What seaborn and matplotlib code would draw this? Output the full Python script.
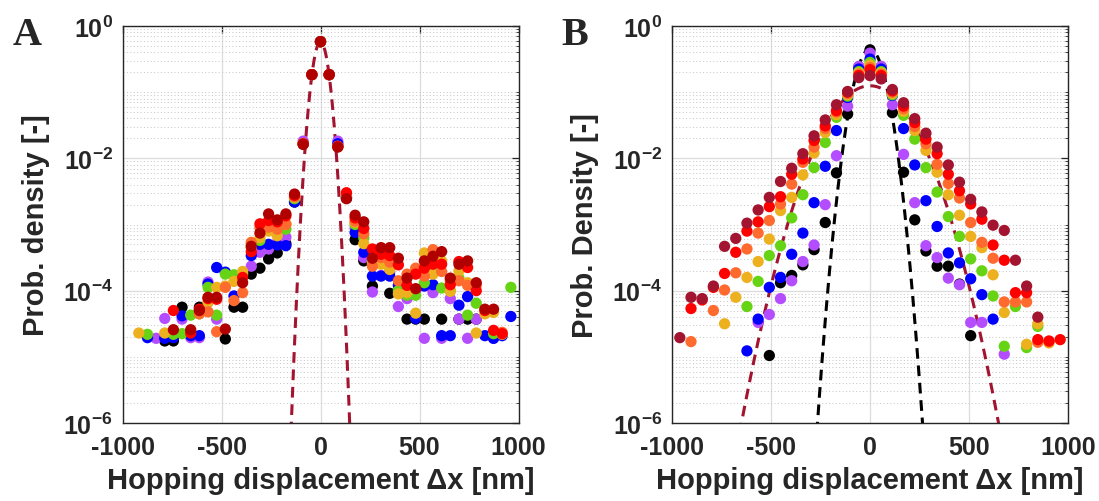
import numpy as np
import pandas as pd
import matplotlib
matplotlib.use("Agg")
import matplotlib.pyplot as plt
import seaborn as sns
from matplotlib.ticker import FixedLocator, FixedFormatter, LogLocator, NullFormatter

nan = np.nan

# series names (one colour per data set)
series = ['black', 'purple', 'blue', 'green', 'gold', 'orange', 'red', 'darkred']
colors_A = ['#000000', '#b44cff', '#0000ff', '#66d414', '#edb120', '#ff6a2e', '#ff0000', '#b00000']
colors_B = ['#000000', '#b44cff', '#0000ff', '#66d414', '#edb120', '#ff6a2e', '#ff0000', '#a2142f']

# ---- panel A : bin index and bin width [nm], values are log10(prob. density)
bins_A = np.arange(-21, 23)
step_A = 43.7
A_black = [nan, nan, nan, -4.76, -4.76, -4.25, nan, -4.25, nan, nan, -4.73, -4.25, -4.25, -3.75, -3.66, -3.52, -3.43, -3.29, -2.66, -1.78, -0.735,
           -0.237, -0.735, -1.82, -2.60, -3.23, -3.55, -3.93, nan, -4.04, nan, -4.43, -4.43, -4.43, nan, -4.43, nan, -4.43, -4.43, -4.43, nan, nan, nan, nan]
A_purple = [nan, nan, -4.72, -4.42, nan, -4.43, -4.71, -4.71, -3.87, -4.43, nan, nan, nan, -3.63, -3.42, -3.37, -3.27, -3.19, -2.63, -1.74, -0.735,
            -0.237, -0.735, -1.74, -2.58, -3.05, -3.50, -4.02, -3.77, -3.72, -4.24, -4.12, -4.00, -4.72, -4.03, -4.72, -4.12, -4.43, -4.72, -4.43, nan, -4.72, nan, nan]
A_blue = [nan, -4.71, nan, -4.72, -4.71, -4.38, -4.68, -4.68, -3.90, -3.65, -3.72, -4.08, nan, -3.47, -3.30, -3.30, -3.31, -3.32, -2.66, -1.78, -0.735,
          -0.237, -0.735, -1.78, -2.60, -3.12, -3.42, -3.78, -3.78, -3.78, -3.92, -3.95, -4.42, -3.93, -3.91, -4.68, -4.68, -4.22, -4.09, nan, -4.68, -4.72, -4.68, -4.39]
A_green = [nan, -4.66, nan, nan, -4.66, -4.65, -4.37, -4.35, -3.95, -4.37, -3.75, -3.76, -3.75, -3.30, -3.24, -3.07, -3.07, -3.07, -2.61, -1.78, -0.735,
           -0.237, -0.735, -1.82, -2.58, -3.00, -3.20, -3.55, -3.57, -3.65, -4.00, -4.07, -4.07, -3.88, -3.66, -3.96, -4.00, -3.81, -4.37, -4.19, nan, -4.65, nan, -3.95]
A_gold = [-4.64, nan, nan, -4.64, nan, nan, nan, nan, -4.18, -3.95, -3.93, -3.86, -3.71, -3.35, -3.20, -3.10, -3.17, -2.99, -2.59, -1.78, -0.735,
          -0.237, -0.735, -1.82, -2.58, -2.97, -3.29, -3.60, -3.60, -3.68, -4.05, -4.03, -4.34, -3.43, -3.75, -3.55, -4.01, -3.70, -3.88, -4.64, -4.35, -4.33, -4.66, nan]
A_orange = [nan, nan, nan, nan, nan, nan, nan, -4.35, -4.32, -4.62, -3.95, -4.15, -4.03, -3.27, -3.05, -3.04, -3.07, -3.00, -2.58, -1.78, -0.735,
            -0.237, -0.735, -1.82, -2.53, -2.95, -3.14, -3.63, -3.50, -3.57, -3.85, -3.75, -3.66, -3.78, -3.38, -3.71, -3.85, -3.85, -3.92, -3.92, nan, nan, -4.63, nan]
A_red = [nan, nan, nan, nan, -4.30, nan, -4.64, -4.28, -4.12, -4.13, nan, nan, -3.80, -3.41, -2.99, -2.94, -2.96, -2.87, -2.56, -1.78, -0.735,
         -0.237, -0.735, -1.82, -2.52, -2.90, -3.06, -3.37, -3.45, -3.47, -3.61, -3.92, -3.75, -3.66, -3.60, -3.60, -3.91, -3.56, -3.65, -4.00, -4.30, -4.60, -4.65, nan]
A_darkred = [nan, nan, nan, nan, -4.59, nan, -4.59, -4.30, -4.10, -4.10, -4.58, nan, -3.88, -3.33, -3.13, -2.84, -2.93, -2.84, -2.54, -1.79, -0.735,
             -0.237, -0.735, -1.83, -2.61, -2.86, -2.96, -3.51, -3.35, -3.35, -3.51, -3.81, -3.97, -3.55, -3.48, -3.41, -3.81, -3.60, -3.55, -3.88, -4.28, -4.28, nan, nan]

# ---- panel B
bins_B = np.arange(-17, 18)
step_B = 56.5
B_black = [nan, nan, nan, nan, nan, nan, nan, nan, -4.98, -3.88, -3.77, -3.61, -3.38, -2.97, -2.22, -1.33, -0.62,
           -0.36, -0.62, -1.31, -2.21, -2.93, -3.40, -3.63, -3.63, -3.90, -4.68, nan, nan, nan, nan, nan, nan, nan, nan]
B_purple = [nan, nan, nan, nan, nan, nan, nan, -4.48, -4.36, -4.12, -3.85, -3.56, -3.31, -2.70, -1.96, -1.21, -0.61,
            -0.41, -0.61, -1.19, -1.94, -2.67, -3.32, -3.50, -3.81, -3.91, -4.48, -4.48, nan, -4.96, nan, nan, nan, nan, nan]
B_blue = [nan, nan, nan, nan, nan, nan, -4.91, -4.43, -3.95, -3.80, -3.45, -3.13, -2.67, -2.12, -1.58, -1.08, -0.65,
          -0.50, -0.65, -1.05, -1.55, -2.10, -2.64, -3.03, -3.43, -3.58, -3.82, -4.06, -4.43, nan, nan, nan, nan, nan, nan]
B_green = [nan, nan, nan, nan, nan, nan, -4.24, -3.86, -3.47, -3.32, -2.90, -2.55, -2.14, -1.76, -1.38, -1.06, -0.69,
           -0.55, -0.69, -1.04, -1.35, -1.71, -2.14, -2.51, -2.88, -3.18, -3.52, -3.70, -4.08, -4.84, -4.24, -4.86, -4.54, nan, nan]
B_gold = [nan, nan, nan, nan, -4.50, -4.10, -3.80, -3.56, -3.22, -2.79, -2.59, -2.25, -1.92, -1.61, -1.34, -1.04, -0.71,
          -0.59, -0.71, -1.02, -1.29, -1.58, -1.88, -2.21, -2.55, -2.86, -3.18, -3.35, -3.76, -4.33, nan, -4.81, -4.50, -4.79, nan]
B_orange = [nan, -4.77, nan, -4.30, -3.99, -3.73, -3.37, -3.13, -2.94, -2.69, -2.39, -2.06, -1.83, -1.55, -1.30, -1.02, -0.73,
            -0.63, -0.73, -1.00, -1.25, -1.52, -1.78, -2.09, -2.38, -2.60, -2.97, -3.27, -3.51, -4.17, -4.17, -4.17, -4.78, -4.77, nan]
B_red = [nan, -4.27, -4.14, -3.95, -3.74, -3.42, -3.10, -2.96, -2.73, -2.58, -2.24, -2.01, -1.73, -1.51, -1.28, -1.00, -0.75,
         -0.66, -0.75, -0.98, -1.21, -1.46, -1.71, -1.93, -2.24, -2.49, -2.69, -2.92, -3.31, -3.54, -4.03, -4.03, -4.74, -4.76, -4.74]
B_darkred = [-4.71, -4.10, -4.12, -3.93, -3.33, -3.21, -2.98, -2.78, -2.59, -2.35, -2.15, -1.93, -1.66, -1.42, -1.19, -0.99, -0.78,
             -0.75, -0.80, -0.96, -1.16, -1.40, -1.62, -1.83, -2.10, -2.36, -2.62, -2.81, -3.01, -3.09, -3.54, -3.93, -4.40, nan, nan]

# gaussian fits (dashed): peak height and sigma [nm]
fitA = (0.58, 28.6)
fitB_narrow = (0.45, 52.0)
fitB_wide = (0.125, 134.0)


def long_table(bins, step, table):
    rows = []
    for name, vals in zip(series, table):
        for k, v in zip(bins, vals):
            if not np.isnan(v):
                rows.append((k * step, 10.0 ** v, name))
    return pd.DataFrame(rows, columns=['dx', 'p', 'series'])


def gauss_df(fit):
    x = np.linspace(-1000, 1000, 2001)
    return pd.DataFrame({'dx': x, 'p': fit[0] * np.exp(-x ** 2 / (2 * fit[1] ** 2))})


sns.set_style('white')
plt.rcParams['font.family'] = ['Liberation Sans', 'DejaVu Sans']
plt.rcParams['font.weight'] = 'bold'
plt.rcParams['mathtext.fontset'] = 'custom'
plt.rcParams['mathtext.rm'] = 'Liberation Sans:bold'
plt.rcParams['mathtext.bf'] = 'Liberation Sans:bold'
plt.rcParams['mathtext.it'] = 'Liberation Sans:bold'

txt = '#262626'


def style(ax, ylabel):
    ax.set_yscale('log')
    ax.set_xlim(-1000, 1000)
    ax.set_ylim(1e-6, 1)
    ax.xaxis.set_major_locator(FixedLocator([-1000, -500, 0, 500, 1000]))
    ax.xaxis.set_major_formatter(FixedFormatter(['-1000', '-500', '0', '500', '1000']))
    ax.yaxis.set_major_locator(FixedLocator([1e-6, 1e-4, 1e-2, 1]))
    ax.yaxis.set_major_formatter(FixedFormatter([r'$\mathbf{10^{-6}}$', r'$\mathbf{10^{-4}}$',
                                                 r'$\mathbf{10^{-2}}$', r'$\mathbf{10^{0}}$']))
    ax.yaxis.set_minor_locator(LogLocator(base=10, subs=np.arange(1, 10), numticks=40))
    ax.yaxis.set_minor_formatter(NullFormatter())
    ax.grid(which='major', color='#dcdcdc', lw=0.9, ls='-')
    ax.grid(which='minor', axis='y', color='#c4c4c4', lw=0.7, ls=(0, (1, 2.5)))
    ax.set_axisbelow(True)
    ax.tick_params(which='both', direction='in', top=True, right=True, colors=txt)
    ax.tick_params(which='major', length=5, width=0.9)
    ax.tick_params(which='minor', length=2.5, width=0.6)
    ax.tick_params(axis='x', pad=9, labelsize=18)
    ax.tick_params(axis='y', pad=7, labelsize=18)
    for s in ax.spines.values():
        s.set_color(txt)
        s.set_linewidth(1.0)
    ax.set_xlabel('Hopping displacement \u0394x [nm]', fontsize=21, fontweight='bold', color=txt, labelpad=4.5)
    ax.set_ylabel(ylabel, fontsize=21, fontweight='bold', color=txt, labelpad=9.5)


fig = plt.figure(figsize=(10.99, 5.02), dpi=100)
axA = fig.add_axes([122.5 / 1099, 78 / 502, 396 / 1099, 397 / 502])
axB = fig.add_axes([672 / 1099, 78 / 502, 396 / 1099, 397 / 502])

dfA = long_table(bins_A, step_A, [A_black, A_purple, A_blue, A_green, A_gold, A_orange, A_red, A_darkred])
dfB = long_table(bins_B, step_B, [B_black, B_purple, B_blue, B_green, B_gold, B_orange, B_red, B_darkred])

sns.lineplot(data=gauss_df(fitA), x='dx', y='p', ax=axA, color='#a2142f', lw=2.2, ls=(0, (3.5, 2.2)))
sns.scatterplot(data=dfA, x='dx', y='p', hue='series', hue_order=series,
                palette=dict(zip(series, colors_A)), s=66, linewidth=0, legend=False, ax=axA, zorder=3)

sns.lineplot(data=gauss_df(fitB_narrow), x='dx', y='p', ax=axB, color='black', lw=2.2, ls=(0, (3.5, 2.2)))
sns.lineplot(data=gauss_df(fitB_wide), x='dx', y='p', ax=axB, color='#a2142f', lw=2.2, ls=(0, (3.5, 2.2)))
sns.scatterplot(data=dfB, x='dx', y='p', hue='series', hue_order=series,
                palette=dict(zip(series, colors_B)), s=66, linewidth=0, legend=False, ax=axB, zorder=3)

style(axA, 'Prob. density [-]')
style(axB, 'Prob. Density [-]')

fig.text(27 / 1099, 1 - 45 / 502, 'A', fontfamily='Liberation Serif', fontweight='bold', fontsize=29, ha='center', va='baseline')
fig.text(575 / 1099, 1 - 45 / 502, 'B', fontfamily='Liberation Serif', fontweight='bold', fontsize=29, ha='center', va='baseline')

fig.savefig('out.png', dpi=100)
